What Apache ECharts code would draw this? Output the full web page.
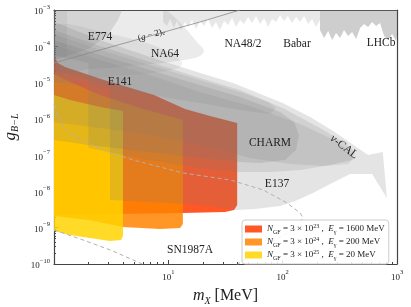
<!DOCTYPE html>
<html><head><meta charset="utf-8">
<script src="https://cdn.jsdelivr.net/npm/echarts@6/dist/echarts.min.js"></script>
<style>html,body{margin:0;padding:0;background:#fff}#c{width:411px;height:307px}</style>
</head><body><div id="c"></div>
<script>
// ---- data (mass in MeV, coupling g_{B-L}) ----
const xTickValues = [1, 10, 100, 1000];
const yTickValues = [1e-10, 1e-9, 1e-8, 1e-7, 1e-6, 1e-5, 1e-4, 1e-3];

const legendNames = ['NGF=3e23, E=1600 MeV', 'NGF=3e24, E=200 MeV', 'NGF=3e25, E=20 MeV'];
const legendExp = ['23', '24', '25'];
const legendE = ['1600', '200', '20'];

const redRegion = [[1,5.41e-5],[1.08,3.47e-5],[1.25,2.69e-5],[1.5,2.22e-5],[2.74,1.18e-5],[7.5,4.55e-6],[14.0,1.87e-6],[23.2,1.2e-6],[40,7.71e-7],[40,4.25e-9],[37.6,3.09e-9],[31.3,2.72e-9],[13.4,2.56e-9],[1,2.25e-9]];
const orangeRegion = [[1,1.73e-5],[1.38,1.04e-5],[2.53,4.55e-6],[5.65,2.0e-6],[13.4,9.33e-7],[13.4,1.27e-9],[12.7,9.87e-10],[8.46,9.26e-10],[4.01,1.05e-9],[2.06,1.6e-9],[1,2.1e-9]];
const yellowRegion = [[1,4.55e-6],[1.38,3.32e-6],[2.53,2.13e-6],[4.01,1.65e-6],[4.01,5.95e-10],[3.86,4.61e-10],[3.09,4.33e-10],[2.06,5.24e-10],[1.38,6.34e-10],[1,8.16e-10]];

const bandOuter = [[1,4.67e-4],[2.53,1.49e-4],[6.92,5.07e-5],[17.8,1.96e-5],[36.9,9.75e-6],[100,2.74e-6],[174,1.13e-6],[276,4.64e-7],[429,1.79e-7],[559,1.01e-7],[751,1.22e-7],[816,6.62e-9],[605,3.03e-8],[389,3.03e-8],[260,1.61e-8],[184,9.09e-9],[129,5.47e-9],[95,3.99e-9],[57.3,3.3e-9],[40,3.09e-9],[18.9,4.25e-9],[6.92,5.14e-9],[3.09,5.83e-9],[3.09,8.06e-6],[1,2.22e-5]];
const bandMid = [[1,2.81e-4],[2.53,1.02e-4],[6.92,3.69e-5],[18.9,1.34e-5],[42.4,6.25e-6],[100,2.0e-6],[212,5.61e-7],[351,2.17e-7],[429,1.22e-7],[405,7.38e-8],[260,5.37e-8],[142,3.91e-8],[77.6,3.44e-8],[42.4,3.44e-8],[18.9,4.44e-8],[6.92,7.38e-8],[2.0,1.58e-7],[2.0,3.47e-5],[1,5.75e-5]];
const charmRegion = [[1,1.49e-4],[2.53,5.75e-5],[6.92,2.22e-5],[18.9,8.59e-6],[42.4,4.01e-6],[95,1.55e-6],[126,8.22e-7],[139,3.6e-7],[131,1.39e-7],[105,7.38e-8],[63.4,6.1e-8],[42.4,6.5e-8],[18.9,8.38e-8],[6.92,1.22e-7],[2.0,1.91e-7],[1,2.62e-7]];
const nucalRegion = [[1,1.09e-4],[2.53,4.2e-5],[6.92,1.62e-5],[18.9,5.51e-6],[51.8,2.27e-6],[142,7.24e-7],[260,2.98e-7],[373,1.39e-7],[421,8.38e-8],[373,5.73e-8],[235,5.04e-8],[116,5.73e-8],[51.8,8.38e-8],[18.9,1.91e-7],[6.92,3.6e-7],[2.53,5.61e-7],[1,8.22e-7]];
const e141Region = [[1,2.18e-4],[2.53,7.91e-5],[6.92,3.05e-5],[18.9,1.18e-5],[42.4,5.51e-6],[74.5,2.92e-6],[87.5,2.0e-6],[77.6,1.37e-6],[42.4,1.76e-6],[18.9,2.74e-6],[6.92,4.55e-6],[2.53,7.1e-6],[1,1.04e-5]];
const e774Region = [[1,1e-3],[3.94,1e-3],[3.63,5.31e-4],[2.97,2.05e-4],[2.06,8.98e-5],[1.38,5.75e-5],[1,4.2e-5]];
const stripRegion = [[1,1e-3],[1.3,1e-3],[1.3,4.76e-5],[1,4.76e-5]];
const na64Outer = [[1,1.5e-3],[4.62,1.5e-3],[9.35,1e-3],[14.0,3.19e-4],[17.8,1.31e-4],[20.5,7.43e-5],[18.2,5.07e-5],[10.3,3.69e-5],[4.62,2.86e-5],[2.06,2.37e-5],[1,2.09e-5]];
const na64Inner = [[1,3.62e-4],[3.09,2.18e-4],[6.92,1.16e-4],[10.8,6.14e-5],[13.2,3.47e-5],[12.2,2.52e-5],[8.46,1.96e-5],[4.62,1.62e-5],[2.06,1.34e-5],[1,1.18e-5]];
const na48Region = [[8.99,1.2e-3],[8.99,4.67e-4],[9.74,3.62e-4],[10.35,5.65e-4],[11.2,3.19e-4],[11.9,4.98e-4],[12.9,2.81e-4],[14.0,4.67e-4],[14.9,3.40e-4],[16.1,5.31e-4],[17.5,3.00e-4],[18.9,4.98e-4],[20.5,3.62e-4],[22.2,5.65e-4],[24.1,3.19e-4],[26.1,4.67e-4],[28.3,2.81e-4],[30.7,4.98e-4],[33.3,3.86e-4],[36.1,6.03e-4],[39.1,3.40e-4],[42.4,5.31e-4],[45.9,4.11e-4],[49.8,6.41e-4],[54.0,4.38e-4],[58.5,6.84e-4],[63.4,4.11e-4],[68.8,6.03e-4],[74.5,3.40e-4],[80.8,5.65e-4],[87.6,4.67e-4],[94.9,7.28e-4],[103,4.98e-4],[111,6.84e-4],[121,4.38e-4],[131,6.41e-4],[142,4.67e-4],[154,6.84e-4],[167,4.11e-4],[181,5.65e-4],[196,3.40e-4],[212,5.31e-4],[212,1.2e-3]];
const lhcbRegion = [[212,1.2e-3],[212,2.81e-4],[230,1.69e-4],[250,2.64e-4],[271,1.49e-4],[293,2.32e-4],[318,1.69e-4],[344,2.81e-4],[373,1.92e-4],[405,2.48e-4],[439,1.59e-4],[476,3.19e-4],[515,4.11e-4],[559,3.40e-4],[606,4.67e-4],[656,3.62e-4],[711,4.38e-4],[771,1.92e-4],[836,1.49e-4],[906,2.18e-4],[982,1.40e-4],[1000,1.92e-4],[1000,1.2e-3]];
const gm2Line = [[1,3.47e-5],[2.53,7.91e-5],[6.92,1.92e-4],[18.9,4.67e-4],[42.4,1e-3]];
const snUpper = [[1,2.5e-6],[1.08,1.28e-6],[1.2,5.98e-7],[1.38,3.84e-7],[1.79,2.62e-7],[2.68,1.39e-7],[4.91,7.38e-8],[13.4,3.23e-8],[34.7,2.07e-8],[67.4,1.1e-8],[109,4.82e-9],[142,2.56e-9],[151,1.86e-9],[131,9.87e-10],[85.8,4.61e-10],[57.3,2.15e-10],[40.7,1e-10],[39,9e-11]];
const snLower = [[1,8.69e-10],[1.79,4.61e-10],[3.09,2.45e-10],[5.65,1.07e-10],[6.25,9e-11]];

// ---- chart ----
const SERIF = '"Liberation Serif", "DejaVu Serif", serif';
const GRAY = a => 'rgba(120,120,120,' + a + ')';

function poly(name, pts, fill, z, smooth) {
  return {
    type: 'custom', name: name, data: pts, z: z, clip: true, silent: true, animation: false,
    itemStyle: { color: fill },
    renderItem: function (params, api) {
      if (params.dataIndex !== 0) return null;
      return { type: 'polygon', shape: { points: pts.map(p => api.coord(p)), smooth: smooth || 0 }, style: { fill: fill } };
    }
  };
}
function line(pts, color, width, dashed, z) {
  return { type: 'line', data: pts, symbol: 'none', silent: true, animation: false, z: z, clip: true,
    lineStyle: { color: color, width: width, type: dashed ? [4, 3] : 'solid' } };
}

const supRich = {
  b: { fontSize: 9, fontFamily: SERIF, color: '#222', lineHeight: 13, verticalAlign: 'bottom' },
  s: { fontSize: 6.5, fontFamily: SERIF, color: '#222', lineHeight: 7, verticalAlign: 'top' }
};
function expLabel(v) {
  const e = Math.round(Math.log10(v));
  return '{b|10}{s|' + (e < 0 ? '\u2212' + (-e) : e) + '}';
}

const series = [
  poly(legendNames[0], redRegion, 'rgba(255,58,0,0.85)', 1),
  poly(legendNames[1], orangeRegion, 'rgba(255,132,0,0.85)', 1),
  poly(legendNames[2], yellowRegion, 'rgba(255,212,0,0.85)', 1),
  poly('bandOuter', bandOuter, GRAY(0.2), 2),
  poly('bandMid', bandMid, GRAY(0.18), 2),
  poly('charm', charmRegion, GRAY(0.2), 2),
  poly('nucal', nucalRegion, GRAY(0.15), 2),
  poly('e141', e141Region, GRAY(0.15), 2),
  poly('e774', e774Region, GRAY(0.2), 2),
  poly('strip', stripRegion, GRAY(0.12), 2),
  poly('na64o', na64Outer, GRAY(0.15), 2, 0.3),
  poly('na64i', na64Inner, GRAY(0.12), 2, 0.3),
  poly('na48', na48Region, GRAY(0.17), 2),
  poly('lhcb', lhcbRegion, GRAY(0.36), 2),
  line(gm2Line, '#8a8a8a', 0.8, false, 3),
  line(snUpper, '#b0b0b0', 1, true, 3),
  line(snLower, '#b0b0b0', 1, true, 3)
];

const legendRich = {
  i: { fontSize: 9, fontStyle: 'italic', fontFamily: SERIF, color: '#222', lineHeight: 12, verticalAlign: 'middle' },
  n: { fontSize: 9, fontFamily: SERIF, color: '#222', lineHeight: 12, verticalAlign: 'middle' },
  sub: { fontSize: 6, fontFamily: SERIF, color: '#222', lineHeight: 5, verticalAlign: 'bottom' },
  sup: { fontSize: 6, fontFamily: SERIF, color: '#222', lineHeight: 5, verticalAlign: 'top' }
};

function txt(t, x, y, rot, size, rich) {
  return { type: 'text', x: x, y: y, rotation: rot || 0, z: 100,
    style: { text: t, font: (size || 11.5) + 'px ' + SERIF, fill: '#222', align: 'center', verticalAlign: 'middle', rich: rich } };
}

const option = {
  animation: false,
  grid: { left: 54, right: 14, top: 10, bottom: 43, show: false, containLabel: false, outerBoundsMode: 'none' },
  legend: {
    data: legendNames, orient: 'vertical', left: 242, top: 220, icon: 'rect',
    itemWidth: 17, itemHeight: 7, itemGap: 1, padding: [3, 4, 3, 3],
    backgroundColor: 'rgba(255,255,255,0.85)', borderColor: '#cccccc', borderWidth: 1, borderRadius: 3,
    selectedMode: false,
    formatter: function (name) {
      const k = legendNames.indexOf(name);
      return '{i|N}{sub|GF}{n| = 3 \u00d7 10}{sup|' + legendExp[k] + '}{n| ,  }{i|E}{sub|\u03b3}{n| = ' + legendE[k] + ' MeV}';
    },
    textStyle: { fontSize: 9, fontFamily: SERIF, color: '#222', rich: legendRich }
  },
  xAxis: [{
    type: 'log', logBase: 10, min: 1, max: 1000, splitNumber: 3,
    axisLine: { show: true, lineStyle: { color: '#444', width: 1.2 } },
    axisTick: { show: true, inside: true, length: 4, lineStyle: { color: '#444' } },
    minorTick: { show: true, splitNumber: 9, length: 2, lineStyle: { color: '#444' } },
    splitLine: { show: false },
    axisLabel: { margin: 5, formatter: v => (Math.round(Math.log10(v)) === 0 ? '' : expLabel(v)), rich: supRich },
    name: '{i|m}{s|X}{n| [MeV]}', nameLocation: 'middle', nameGap: 24,
    nameTextStyle: { rich: {
      i: { fontSize: 16, fontStyle: 'italic', fontFamily: SERIF, color: '#222', lineHeight: 18, verticalAlign: 'top' },
      n: { fontSize: 16, fontFamily: SERIF, color: '#222', lineHeight: 18, verticalAlign: 'top' },
      s: { fontSize: 10, fontStyle: 'italic', fontFamily: SERIF, color: '#222', lineHeight: 8, verticalAlign: 'bottom' } } }
  }, {
    type: 'log', logBase: 10, min: 1, max: 1000, position: 'top',
    axisLine: { show: true, lineStyle: { color: '#444', width: 1.2 } },
    axisTick: { show: false }, axisLabel: { show: false }, splitLine: { show: false }
  }],
  yAxis: [{
    type: 'log', logBase: 10, min: 1e-10, max: 1e-3, splitNumber: 7,
    axisLine: { show: true, lineStyle: { color: '#444', width: 1.2 } },
    axisTick: { show: true, inside: true, length: 4, lineStyle: { color: '#444' } },
    minorTick: { show: true, splitNumber: 9, length: 2, lineStyle: { color: '#444' } },
    splitLine: { show: false },
    axisLabel: { margin: 4, formatter: expLabel, rich: supRich },
    name: '{g|g}{s|B\u2212L}', nameLocation: 'middle', nameGap: 30,
    nameTextStyle: { padding: [0, 0, 0, 20], rich: {
      g: { fontSize: 17, fontStyle: 'italic', fontFamily: SERIF, color: '#222', lineHeight: 18, verticalAlign: 'top' },
      s: { fontSize: 10, fontStyle: 'italic', fontFamily: SERIF, color: '#222', lineHeight: 8, verticalAlign: 'bottom' } } }
  }, {
    type: 'log', logBase: 10, min: 1e-10, max: 1e-3, position: 'right',
    axisLine: { show: true, lineStyle: { color: '#444', width: 1.2 } },
    axisTick: { show: false }, axisLabel: { show: false }, splitLine: { show: false }
  }],
  series: series,
  graphic: [
    txt('E774', 100, 37),
    txt('{n|(}{i|g}{n| \u2212 2)}{s|e}', 151, 34, 0.28, 9, {
      n: { fontSize: 9, fontFamily: SERIF, fill: '#222', lineHeight: 11, verticalAlign: 'bottom' },
      i: { fontSize: 9, fontStyle: 'italic', fontFamily: SERIF, fill: '#222', lineHeight: 11, verticalAlign: 'bottom' },
      s: { fontSize: 6, fontFamily: SERIF, fill: '#222', lineHeight: 6, verticalAlign: 'bottom' } }),
    txt('NA64', 165, 54),
    txt('E141', 120, 82),
    txt('NA48/2', 243, 44),
    txt('Babar', 297, 44),
    txt('LHCb', 381, 43),
    txt('CHARM', 270, 143),
    txt('{i|\u03bd}{n|-CAL}', 344, 147, -0.66, 11, {
      i: { fontSize: 11.5, fontStyle: 'italic', fontFamily: SERIF, fill: '#222' },
      n: { fontSize: 11.5, fontFamily: SERIF, fill: '#222' } }),
    txt('E137', 277, 184),
    txt('SN1987A', 190, 250)
  ]
};
echarts.init(document.getElementById('c'), null, { renderer: 'canvas' }).setOption(option);
</script></body></html>
